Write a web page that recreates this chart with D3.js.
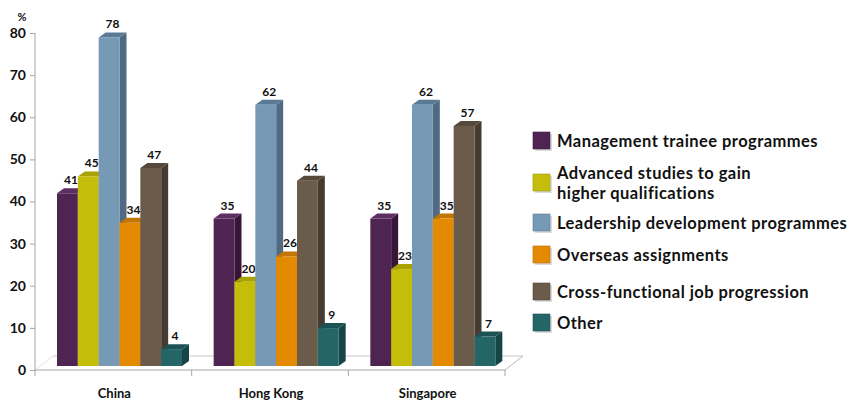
<!DOCTYPE html>
<html><head><meta charset="utf-8">
<script src="https://cdn.jsdelivr.net/npm/d3@7"></script>
<style>body{margin:0;background:#fff}text{font-family:Lato,"Open Sans",sans-serif;font-weight:700;fill:#111}</style>
</head><body>
<svg id="c" width="853" height="401"></svg>
<script>
const categories = ["China", "Hong Kong", "Singapore"];
const seriesNames = ["Management trainee programmes", "Advanced studies to gain|higher qualifications",
  "Leadership development programmes", "Overseas assignments", "Cross-functional job progression", "Other"];
const mgmtTrainee = [41, 35, 35];
const advancedStudies = [45, 20, 23];
const leadershipDev = [78, 62, 62];
const overseasAssign = [34, 26, 35];
const crossFunctional = [47, 44, 57];
const otherVals = [4, 9, 7];
const yTicks = [0, 10, 20, 30, 40, 50, 60, 70, 80];
const frontColors = ["#4f2352", "#c4be0a", "#7699b6", "#e48a00", "#6a5b4b", "#246568"];
const sideColors  = ["#361638", "#918c00", "#4f6a82", "#a96600", "#463b30", "#174446"];
const topColors   = ["#5e2d62", "#a8a300", "#5a7a95", "#c27500", "#56493b", "#1d5254"];

const seriesVals = [mgmtTrainee, advancedStudies, leadershipDev, overseasAssign, crossFunctional, otherVals];

const svg = d3.select("#c");
const y = d3.scaleLinear().domain([0, 80]).range([370, 33]);
const x0 = d3.scaleBand().domain(categories).range([35, 505]);
const x1 = d3.scaleBand().domain(d3.range(6)).range([22, 147]);
const lift = 4, dx = 7, dy = 5;

// floor
const fl = 35, fr = 505, fy = 370, fdx = 18, fdy = 14;
svg.append("line").attr("x1", fl+fdx).attr("x2", fr+fdx).attr("y1", fy-fdy).attr("y2", fy-fdy).attr("stroke", "#c8c8c8");
svg.append("line").attr("x1", fr).attr("x2", fr+fdx).attr("y1", fy).attr("y2", fy-fdy).attr("stroke", "#b8b8b8");
svg.append("line").attr("x1", fl).attr("x2", fl+fdx).attr("y1", fy).attr("y2", fy-fdy).attr("stroke", "#e4e4e4");

// y axis
const yAxis = d3.axisLeft(y).tickValues(yTicks).tickSize(5).tickPadding(4);
const ga = svg.append("g").attr("transform", "translate(35,0)").call(yAxis);
ga.select(".domain").attr("stroke", "#a6a6a6").attr("d", "M0,33V370");
ga.selectAll(".tick line").attr("stroke", "#a6a6a6");
ga.selectAll(".tick text").style("font-size", "14px").attr("fill", "#111").style("font-family", "Lato").style("font-weight", 700);
svg.append("text").attr("x", 22).attr("y", 21).attr("text-anchor", "middle").style("font-size", "11px").text("%");

// x axis
svg.append("line").attr("x1", fl).attr("x2", fr).attr("y1", fy).attr("y2", fy).attr("stroke", "#a6a6a6");
const edges = [...categories.map(c => x0(c)), x0.range()[1]];
svg.selectAll(".xt").data(edges).enter().append("line").attr("x1", d => d).attr("x2", d => d)
  .attr("y1", fy).attr("y2", fy + 6).attr("stroke", "#a6a6a6");
svg.selectAll(".xl").data(categories).enter().append("text")
  .attr("x", d => x0(d) + x0.bandwidth() / 2 + 1).attr("y", 398).attr("text-anchor", "middle")
  .style("font-size", "13px").text(d => d);

// bars
categories.forEach((cat, ci) => {
  seriesVals.forEach((arr, si) => {
    const v = arr[ci];
    const bx = x0(cat) + x1(si), bw = x1.bandwidth();
    const yt = y(v) - lift, yb = y(0) - lift;
    const g = svg.append("g");
    g.append("path").attr("d", `M${bx+bw},${yt}L${bx+bw+dx},${yt-dy}L${bx+bw+dx},${yb-dy}L${bx+bw},${yb}Z`).attr("fill", sideColors[si]);
    g.append("path").attr("d", `M${bx},${yt}L${bx+dx},${yt-dy}L${bx+bw+dx},${yt-dy}L${bx+bw},${yt}Z`).attr("fill", topColors[si]);
    g.append("rect").attr("x", bx).attr("y", yt).attr("width", bw).attr("height", yb - yt).attr("fill", frontColors[si]);
    svg.append("text").attr("x", bx + bw / 2 + dx / 2).attr("y", yt - dy - 4).attr("text-anchor", "middle")
      .style("font-size", "12px").text(v);
  });
});

// legend
const legY = [141, 183, 223, 255, 292, 323];
seriesNames.forEach((name, i) => {
  svg.append("rect").attr("x", 534).attr("y", legY[i] - 8).attr("width", 17).attr("height", 17)
    .attr("fill", "#999").attr("opacity", 0.35).attr("transform", "translate(1,1)");
  svg.append("rect").attr("x", 533).attr("y", legY[i] - 9).attr("width", 17).attr("height", 17)
    .attr("fill", frontColors[i]).attr("stroke", d3.color(frontColors[i]).darker(0.6)).attr("stroke-width", 0.6);
  const lines = name.split("|");
  const t = svg.append("text").attr("x", 557).style("font-size", "16.5px").style("letter-spacing", "0.45px");
  lines.forEach((ln, k) => {
    t.append("tspan").attr("x", 557).attr("y", legY[i] + 6 + (lines.length === 1 ? 0 : (k === 0 ? -10 : 10))).text(ln);
  });
});
</script>
</body></html>
